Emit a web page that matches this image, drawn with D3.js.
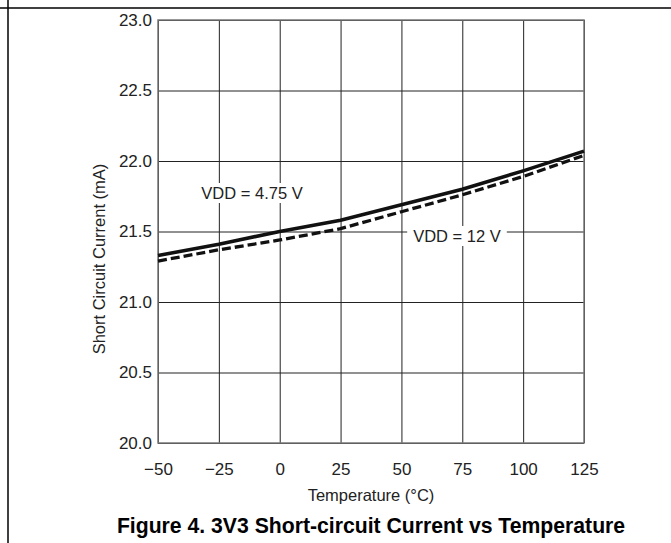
<!DOCTYPE html>
<html>
<head>
<meta charset="utf-8">
<script src="https://cdn.jsdelivr.net/npm/d3@7"></script>
<style>
  body { margin: 0; background: #fff; }
  svg { display: block; font-family: "Liberation Sans", Arial, sans-serif; }
</style>
</head>
<body>
<svg id="chart" width="671" height="543"></svg>
<script>
// data
var temps = [-50, -25, 0, 25, 50, 75, 100, 125]
var vdd475 = [21.33, 21.41, 21.50, 21.58, 21.69, 21.80, 21.93, 22.07]
var vdd12 = [21.29, 21.37, 21.44, 21.52, 21.64, 21.76, 21.89, 22.04]
var xTicks = [-50, -25, 0, 25, 50, 75, 100, 125]
var yTicks = [20.0, 20.5, 21.0, 21.5, 22.0, 22.5, 23.0]

var margin = {top: 20, right: 87, bottom: 100, left: 158}
var width = 671 - margin.left - margin.right
var height = 543 - margin.top - margin.bottom

var svg = d3.select('#chart')

// page frame lines
svg.append('line').attr('x1', 0).attr('x2', 671).attr('y1', 8).attr('y2', 8)
  .attr('stroke', '#000').attr('stroke-width', 1.5)
svg.append('line').attr('x1', 8).attr('x2', 8).attr('y1', 0).attr('y2', 543)
  .attr('stroke', '#000').attr('stroke-width', 1.5)

var g = svg.append('g')
  .attr('transform', 'translate(' + margin.left + ',' + margin.top + ')')

var x = d3.scaleLinear().domain([-50, 125]).range([0, width])
var y = d3.scaleLinear().domain([20, 23]).range([height, 0])

// grid
g.append('g')
  .attr('class', 'grid')
  .attr('transform', 'translate(0,' + height + ')')
  .call(d3.axisBottom(x).tickValues(xTicks).tickSize(-height).tickFormat(''))
g.append('g')
  .attr('class', 'grid')
  .call(d3.axisLeft(y).tickValues(yTicks).tickSize(-width).tickFormat(''))
g.selectAll('.grid .domain').remove()
g.selectAll('.grid line').attr('stroke', '#222').attr('stroke-width', 1)

// frame
g.append('rect')
  .attr('width', width).attr('height', height)
  .attr('fill', 'none').attr('stroke', '#777').attr('stroke-width', 1.5)

// axes labels
var xAxisG = g.append('g')
  .attr('transform', 'translate(0,' + height + ')')
  .call(d3.axisBottom(x).tickValues(xTicks).tickSize(0).tickPadding(20)
    .tickFormat(function (d) { return d < 0 ? '\u2212' + Math.abs(d) : d }))
var yAxisG = g.append('g')
  .call(d3.axisLeft(y).tickValues(yTicks).tickSize(0).tickPadding(6)
    .tickFormat(d3.format('.1f')))
xAxisG.select('.domain').remove()
yAxisG.select('.domain').remove()
g.selectAll('.tick text')
  .attr('font-size', 17).attr('fill', '#222')
  .attr('font-family', '"Liberation Sans", Arial, sans-serif')

// annotations with white boxes (drawn before the lines)
function label (txt, cx, cy, padX, padY) {
  var t = g.append('text')
    .attr('x', cx).attr('y', cy).attr('dy', '0.35em')
    .attr('text-anchor', 'middle')
    .attr('font-size', 16.5).attr('fill', '#222')
    .text(txt)
  var b = t.node().getBBox()
  g.insert('rect', function () { return t.node() })
    .attr('x', b.x - padX).attr('y', cy - 10 - padY)
    .attr('width', b.width + 2 * padX).attr('height', 20 + 2 * padY)
    .attr('fill', '#fff')
}
label('VDD = 4.75 V', 252 - margin.left, 193 - margin.top, 2, 0)
label('VDD = 12 V', 457 - margin.left, 236 - margin.top, 6, 0)

// series
var line = d3.line()
  .x(function (d) { return x(d[0]) })
  .y(function (d) { return y(d[1]) })

g.append('path')
  .datum(d3.zip(temps, vdd12))
  .attr('d', line)
  .attr('fill', 'none').attr('stroke', '#111')
  .attr('stroke-width', 3.3).attr('stroke-dasharray', '9,4')

g.append('path')
  .datum(d3.zip(temps, vdd475))
  .attr('d', line)
  .attr('fill', 'none').attr('stroke', '#111')
  .attr('stroke-width', 3.6)

// axis titles
svg.append('text')
  .attr('x', margin.left + width / 2).attr('y', 495).attr('dy', '0.35em')
  .attr('text-anchor', 'middle').attr('font-size', 16.5).attr('fill', '#222')
  .text('Temperature (\u00b0C)')
svg.append('text')
  .attr('transform', 'translate(99,259) rotate(-90)')
  .attr('dy', '0.35em')
  .attr('text-anchor', 'middle').attr('font-size', 16.5).attr('fill', '#222')
  .text('Short Circuit Current (mA)')

// figure caption
svg.append('text')
  .attr('x', margin.left + width / 2).attr('y', 526).attr('dy', '0.35em')
  .attr('text-anchor', 'middle').attr('font-size', 21.2).attr('font-weight', 'bold')
  .attr('fill', '#000')
  .text('Figure 4. 3V3 Short-circuit Current vs Temperature')
</script>
</body>
</html>
